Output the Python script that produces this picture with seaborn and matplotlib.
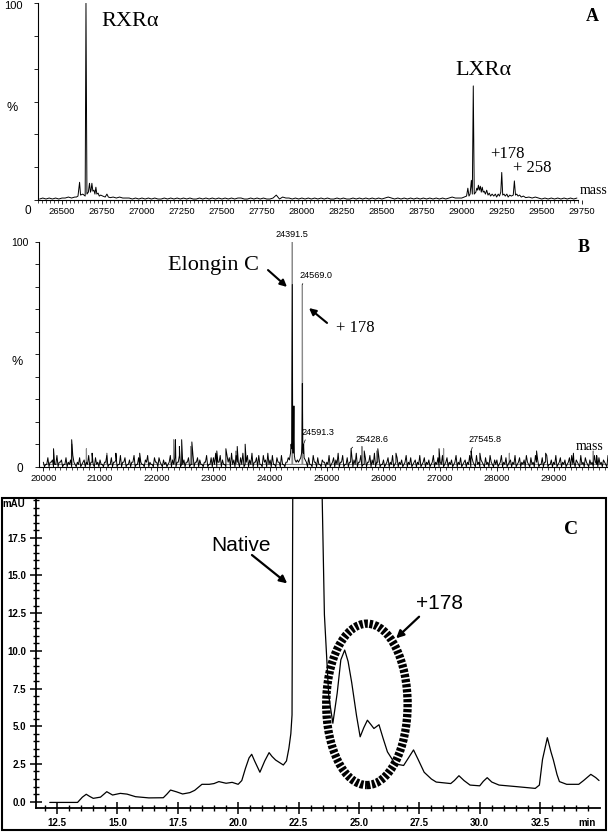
import numpy as np
import pandas as pd
import matplotlib
matplotlib.use("Agg")
import matplotlib.pyplot as plt
import seaborn as sns
from matplotlib.patches import Ellipse, Rectangle
from matplotlib.ticker import MultipleLocator, FixedLocator, FormatStrFormatter

# ---------------- panel A : RXRa / LXRa deconvoluted spectrum ----------------
A_noise_start = [26360, 26820, 29420]
A_noise_step = 20
# baseline wiggle, one digit per step, in units of 0.5 %
A_noise = ["121212122323",
           "3232221212" "1212112121" "2121211212" "1212121212" "2112121211"
           "2513221212" "1212121211" "2121121212" "1212123212" "1212121212"
           "121212322",
           "3232121212121212"]
A_rxr_mass = [26590, 26600, 26610, 26616, 26630, 26645, 26650, 26656, 26665, 26672,
              26678, 26682, 26687, 26693, 26700, 26706, 26712, 26718, 26726, 26733,
              26742, 26755, 26770, 26781, 26790, 26802]
A_rxr_int = [1.5, 2, 9, 2.5, 3, 2, 100, 3, 4, 8.5,
             4, 5, 8.5, 4.5, 5, 3, 6.5, 3, 3.5, 2,
             2.5, 2, 1.5, 3, 1.5, 1.2]
A_lxr_mass = [29000, 29015, 29030, 29038, 29045, 29052, 29060, 29066, 29072, 29078,
              29088, 29094, 29099, 29104, 29110, 29116, 29122, 29128, 29134, 29140,
              29148, 29156, 29164, 29172, 29180, 29190, 29200, 29210, 29218, 29228,
              29236, 29244, 29250, 29256, 29264, 29272, 29282, 29290, 29300, 29310,
              29322, 29329, 29336, 29344, 29352, 29362, 29372, 29385, 29400]
A_lxr_int = [1, 1.5, 2, 6, 2, 3, 10, 3, 58, 3,
             4, 6, 5, 7.5, 5, 7, 4, 6.5, 4, 4.5,
             3, 5, 2.5, 3.5, 2, 3, 2, 3, 1.5, 3,
             2, 4, 14, 2.5, 3, 2, 3, 1.5, 2.5, 2,
             2.5, 9.7, 2.5, 3, 2, 2.5, 1.5, 2, 1.2]

# ---------------- panel B : Elongin C spectrum ----------------
B_noise_start = 20000
B_noise_step = 20
# baseline noise, one digit per 40 Da, in % (even and odd half-steps)
B_noise_even = ("2142315231423512413252142"
                "3125142315241325142135214"
                "2413215342513241524312514"
                "4625315463524615362451536"
                "3514251243000000041524132"
                "2514362514253625142536241"
                "3142514231524132514231524"
                "2514231524132541523142513"
                "3152413251423514253142513"
                "2514231452315241325142315")
B_noise_odd = ("0102010201010201020102010"
               "1020102010201020101020102"
               "0201020102010201020102010"
               "1020102010201020102010201"
               "0102010200000000010201020"
               "1020102010201020102010201"
               "0201020102010201020102010"
               "1020102010201020102010201"
               "0201020102010201020102010"
               "1020102010201020102010201")
B_main_mass = [24340, 24360, 24370, 24380, 24391.5, 24398, 24405, 24412, 24420, 24428,
               24440, 24460, 24480, 24500, 24520, 24540, 24555, 24562, 24569.0, 24576,
               24584, 24591.3, 24600, 24620, 24640]
B_main_int = [3, 6, 10, 8, 81, 9, 6, 10, 27, 5,
              3, 2, 3, 2, 3, 4, 6, 10, 37, 8,
              6, 10, 4, 3, 2]
B_spike_mass = [20180, 20500, 20860, 21280, 21700, 22330, 22400, 22440, 22620, 23060,
                23220, 23420, 23560, 25428.6, 25660, 25900, 26220, 26980, 27545.8, 27700,
                28700, 28860, 29350, 29760]
B_spike_int = [8, 12, 6, 6, 6, 12, 9, 12, 11, 7,
               8, 9, 10, 8, 7, 8, 6, 8, 7, 6,
               7, 6, 6, 5]
B_gray_mass = [20500, 20760, 21120, 22300, 22600, 23400, 24391.5, 24569.0, 25620, 25880,
               27060, 28220, 29700]
B_gray_int = [10, 8, 6, 12, 9, 7, 100, 81, 9, 7, 8, 6, 7]
B_label_mass = [24391.5, 24569.0, 24591.3, 25428.6, 27545.8]
B_label_int = [100, 81, 10, 8, 7]

# ---------------- panel C : HPLC trace ----------------
C_time = [12.2, 13.35, 13.55, 13.71, 13.85, 14.0, 14.3, 14.56, 14.8, 15.12,
          15.4, 15.75, 16.3, 16.9, 17.05, 17.2, 17.45, 17.7, 18.0, 18.2,
          18.5, 18.8, 19.0, 19.2, 19.5, 19.75, 20.0, 20.15, 20.3, 20.45,
          20.56, 20.68, 20.9, 21.1, 21.28, 21.4, 21.55, 21.87, 22.0, 22.1,
          22.18, 22.23, 22.3, 23.42, 23.48, 23.57, 23.75, 23.92, 24.1, 24.25,
          24.41, 24.55, 24.7, 24.9, 25.05, 25.2, 25.35, 25.5, 25.62, 25.83,
          26.0, 26.18, 26.5, 26.85, 27.05, 27.26, 27.45, 27.7, 28.0, 28.2,
          28.8, 28.95, 29.14, 29.35, 29.6, 30.0, 30.15, 30.31, 30.5, 30.8,
          31.5, 32.3, 32.47, 32.6, 32.8, 32.95, 33.05, 33.2, 33.3, 33.6,
          34.1, 34.3, 34.6, 34.8, 34.94]
C_mau = [-0.05, -0.05, 0.3, 0.49, 0.35, 0.22, 0.3, 0.66, 0.44, 0.55,
         0.5, 0.33, 0.25, 0.26, 0.5, 0.77, 0.65, 0.51, 0.6, 0.75,
         1.15, 1.15, 1.2, 1.33, 1.22, 1.28, 1.15, 1.4, 2.2, 2.9,
         3.14, 2.7, 1.95, 2.7, 3.25, 3.0, 2.76, 2.43, 2.7, 3.54,
         4.5, 5.75, 40, 40, 20, 12.4, 7.0, 5.2, 7.2, 9.4,
         10.05, 9.3, 7.9, 5.7, 4.3, 4.9, 5.4, 5.1, 4.85, 5.1,
         4.2, 3.3, 2.5, 2.4, 2.9, 3.43, 2.8, 1.95, 1.5, 1.3,
         1.2, 1.4, 1.72, 1.4, 1.1, 1.05, 1.35, 1.59, 1.3, 1.1,
         1.0, 0.88, 1.1, 2.8, 4.24, 3.3, 2.76, 1.8, 1.33, 1.15,
         1.15, 1.4, 1.81, 1.6, 1.4]
C_yticks = [0.0, 2.5, 5.0, 7.5, 10.0, 12.5, 15.0, 17.5]

# ---------------- build tables ----------------
a_mass, a_int = [], []
for start, digits in zip(A_noise_start, A_noise):
    for k, d in enumerate(digits):
        a_mass.append(start + k * A_noise_step)
        a_int.append(int(d) * 0.5)
a_mass += A_rxr_mass + A_lxr_mass
a_int += A_rxr_int + A_lxr_int
df_a = pd.DataFrame({"mass": a_mass, "intensity": a_int}).sort_values("mass", kind="stable")

b_mass, b_int = [], []
for k, (d0, d1) in enumerate(zip(B_noise_even, B_noise_odd)):
    for j, d in enumerate((d0, d1)):
        m = B_noise_start + (2 * k + j) * B_noise_step
        if B_main_mass[0] <= m <= B_main_mass[-1]:
            continue
        b_mass.append(m)
        b_int.append(int(d))
b_mass += B_main_mass + B_spike_mass
b_int += B_main_int + B_spike_int
df_b = pd.DataFrame({"mass": b_mass, "intensity": b_int}).sort_values("mass", kind="stable")

g_mass, g_int = [B_noise_start], [1]
for m, h in zip(B_gray_mass, B_gray_int):
    g_mass += [m - 6, m, m + 6]
    g_int += [1, h, 1]
g_mass.append(max(b_mass))
g_int.append(1)
df_g = pd.DataFrame({"mass": g_mass, "intensity": g_int})

df_c = pd.DataFrame({"time": C_time, "mAU": C_mau})

# ---------------- figure ----------------
sns.set_theme(style="ticks")
plt.rcParams["font.family"] = ["Liberation Sans", "DejaVu Sans"]
plt.rcParams.update({"text.color": "black", "axes.edgecolor": "black",
                     "xtick.color": "black", "ytick.color": "black"})
SERIF = ["Liberation Serif", "DejaVu Serif"]

W, H = 608, 832
fig = plt.figure(figsize=(W / 100, H / 100), dpi=100)
fig.patch.set_facecolor("white")

def fpos(px, py):
    return px / W, 1 - py / H

# ---- panel A ----
axA = fig.add_axes([38 / W, 1 - 200 / H, (583.3 - 38) / W, (200 - 3.3) / H])
sns.lineplot(data=df_a, x="mass", y="intensity", ax=axA, color="black",
             linewidth=0.7, estimator=None, sort=False)
axA.set_xlim(26350, 29760)
axA.set_ylim(0, 100)
axA.spines[["top", "right"]].set_visible(False)
axA.spines["bottom"].set_bounds(26350, 29725)
for s in ["left", "bottom"]:
    axA.spines[s].set_linewidth(0.8)
axA.xaxis.set_major_locator(MultipleLocator(250))
axA.xaxis.set_minor_locator(MultipleLocator(25))
axA.yaxis.set_major_locator(MultipleLocator(100 / 6))
axA.tick_params(axis="x", which="major", length=3, width=0.6, labelsize=6.8, pad=2)
axA.tick_params(axis="x", which="minor", length=2, width=0.5)
axA.tick_params(axis="y", which="major", length=3, width=0.6, labelleft=False)
axA.set_xlabel("")
axA.set_ylabel("")
axA.text(26924, 91, "RXR\u03b1", family=SERIF, fontsize=16, ha="center", va="center")
axA.text(29136, 66, "LXR\u03b1", family=SERIF, fontsize=16, ha="center", va="center")
axA.text(29283, 23.4, "+178", family=SERIF, fontsize=12, ha="center", va="center")
axA.text(29439, 16.4, "+ 258", family=SERIF, fontsize=12, ha="center", va="center")
axA.text(29827, 4.7, "mass", family=SERIF, fontsize=10, ha="center", va="center")
axA.text(29815, 93.4, "A", family=SERIF, fontsize=13, fontweight="bold", ha="center", va="center")
fig.text(*fpos(13, 6), "100", fontsize=8, ha="center", va="center")
fig.text(*fpos(12, 108), "%", fontsize=9, ha="center", va="center")
fig.text(*fpos(28, 211), "0", fontsize=8.5, ha="center", va="center")

# ---- panel B ----
axB = fig.add_axes([39.3 / W, 1 - 466.7 / H, (608 - 39.3) / W, (466.7 - 241.7) / H])
sns.lineplot(data=df_g, x="mass", y="intensity", ax=axB, color="#8a8a8a",
             linewidth=0.8, estimator=None, sort=False)
sns.lineplot(data=df_b, x="mass", y="intensity", ax=axB, color="black",
             linewidth=0.7, estimator=None, sort=False)
axB.set_xlim(19929, 29960)
axB.set_ylim(0, 100)
axB.spines[["top", "right"]].set_visible(False)
for s in ["left", "bottom"]:
    axB.spines[s].set_linewidth(0.8)
axB.xaxis.set_major_locator(MultipleLocator(1000))
axB.xaxis.set_minor_locator(MultipleLocator(100))
axB.yaxis.set_major_locator(MultipleLocator(10))
axB.tick_params(axis="x", which="major", length=3, width=0.6, labelsize=6.8, pad=2)
axB.tick_params(axis="x", which="minor", length=2, width=0.5)
axB.tick_params(axis="y", which="major", length=3, width=0.6, labelleft=False)
axB.set_xlabel("")
axB.set_ylabel("")

label_offsets = [(0, 2), (-2, 3), (-1.5, 5.5), (3.5, 3.5), (-2, 5)]
for m, h, off in zip(B_label_mass, B_label_int, label_offsets):
    if off[1] == 2:
        axB.annotate(f"{m:.1f}", xy=(m, h), xytext=off, textcoords="offset points",
                     ha="center", va="bottom", fontsize=6.6)
    else:
        axB.annotate(f"{m:.1f}", xy=(m, h), xytext=off, textcoords="offset points",
                     ha="left", va="bottom", fontsize=6.6,
                     arrowprops=dict(arrowstyle="-", lw=0.5, color="black",
                                     shrinkA=0, shrinkB=0,
                                     relpos=(0.0 if off[0] > 0 else 0.15, 0)))

axB.text(22993, 89.6, "Elongin C", family=SERIF, fontsize=16, ha="center", va="center")
axB.annotate("", xy=(24298, 79.9), xytext=(23963, 87.4),
             arrowprops=dict(arrowstyle="-|>", lw=1.5, color="black", mutation_scale=10,
                             shrinkA=0, shrinkB=0))
axB.text(25506, 61.8, "+ 178", family=SERIF, fontsize=12, ha="center", va="center")
axB.annotate("", xy=(24686, 70.5), xytext=(25004, 63.9),
             arrowprops=dict(arrowstyle="-|>", lw=1.5, color="black", mutation_scale=10,
                             shrinkA=0, shrinkB=0))
axB.text(29633, 8.8, "mass", family=SERIF, fontsize=10, ha="center", va="center")
axB.text(29536, 97.2, "B", family=SERIF, fontsize=13, fontweight="bold", ha="center", va="center")
fig.text(*fpos(20, 243), "100", fontsize=7.5, ha="center", va="center")
fig.text(*fpos(17, 362), "%", fontsize=9, ha="center", va="center")
fig.text(*fpos(20, 469), "0", fontsize=8.5, ha="center", va="center")

# ---- panel C ----
fig.add_artist(Rectangle((2 / W, 1 - 830 / H), 604 / W, (830 - 498) / H,
                         transform=fig.transFigure, fill=False, lw=1.5, ec="black"))
axC = fig.add_axes([36 / W, 1 - 808 / H, (600 - 36) / W, (808 - 498) / H])
axC.patch.set_alpha(0)
sns.lineplot(data=df_c, x="time", y="mAU", ax=axC, color="black",
             linewidth=0.9, estimator=None, sort=False)
axC.set_xlim(11.63, 34.98)
axC.set_ylim(-0.42, 20.13)
axC.spines[["top", "right"]].set_visible(False)
for s in ["left", "bottom"]:
    axC.spines[s].set_linewidth(1.3)
axC.xaxis.set_major_locator(MultipleLocator(2.5))
axC.xaxis.set_minor_locator(MultipleLocator(0.5))
axC.xaxis.set_major_formatter(FormatStrFormatter("%.1f"))
axC.yaxis.set_major_locator(FixedLocator(C_yticks))
axC.yaxis.set_minor_locator(MultipleLocator(0.5))
axC.yaxis.set_major_formatter(FormatStrFormatter("%.1f"))
axC.tick_params(which="major", direction="inout", length=8, width=1.1, labelsize=7, pad=3)
axC.tick_params(which="minor", direction="inout", length=5, width=1.0)
for lab in axC.get_xticklabels() + axC.get_yticklabels():
    lab.set_fontweight("bold")
axC.set_xlabel("")
axC.set_ylabel("")
axC.add_patch(Ellipse((25.33, 6.45), 3.37, 10.7, fill=False, lw=6, ec="black",
                      ls=(0, (0.4, 0.2))))
axC.text(20.1, 17.0, "Native", fontsize=15, ha="center", va="center")
axC.annotate("", xy=(22.03, 14.47), xytext=(20.57, 16.35),
             arrowprops=dict(arrowstyle="-|>", lw=1.6, color="black", mutation_scale=11,
                             shrinkA=0, shrinkB=0))
axC.text(28.32, 13.15, "+178", fontsize=15, ha="center", va="center")
axC.annotate("", xy=(26.54, 10.83), xytext=(27.49, 12.26),
             arrowprops=dict(arrowstyle="-|>", lw=1.6, color="black", mutation_scale=11,
                             shrinkA=0, shrinkB=0))
fig.text(*fpos(14, 504), "mAU", fontsize=7, fontweight="bold", ha="center", va="center")
fig.text(*fpos(587, 823), "min", fontsize=7, fontweight="bold", ha="center", va="center")
fig.text(*fpos(570.6, 530), "C", family=SERIF, fontsize=14, fontweight="bold",
         ha="center", va="center")

fig.savefig("out.png", dpi=100, facecolor="white")
